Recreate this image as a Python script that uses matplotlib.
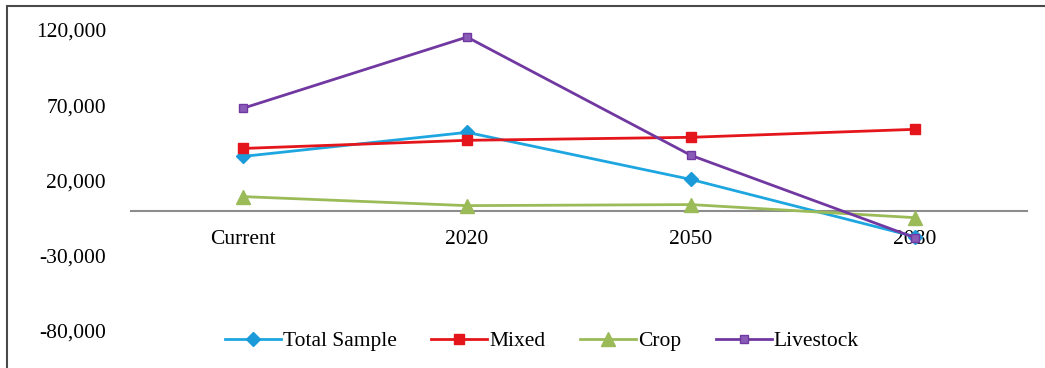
import matplotlib.pyplot as plt
from matplotlib.patches import Rectangle
from matplotlib.ticker import FuncFormatter

plt.rcParams['font.family'] = ['Liberation Serif', 'DejaVu Serif']

periods = ["Current", "2020", "2050", "2080"]
total_sample = [36000, 52000, 20700, -17300]
mixed = [41300, 46700, 48700, 54000]
crop = [9300, 3300, 4000, -4700]
livestock = [68000, 115300, 36700, -18000]
y_ticks = [-80000, -30000, 20000, 70000, 120000]

fig = plt.figure(figsize=(10.45, 3.68), dpi=100)
ax = fig.add_axes([131 / 1045, 1 - 331 / 368, 896 / 1045, 301 / 368])

x = range(len(periods))
ax.plot(x, total_sample, color="#1ea6e0", lw=2, marker="D", ms=7,
        mfc="#1a9ad8", mec="#1a9ad8", label="Total Sample")
ax.plot(x, mixed, color="#e4161b", lw=2, marker="s", ms=7,
        mfc="#e4161b", mec="#e4161b", label="Mixed")
ax.plot(x, crop, color="#9bbb59", lw=2, marker="^", ms=10,
        mfc="#9bbb59", mec="#9bbb59", label="Crop")
ax.plot(x, livestock, color="#7038a0", lw=2, marker="s", ms=5.5,
        mfc="#8a5cb8", mec="#7038a0", label="Livestock")

ax.set_xlim(-0.5, 3.5)
ax.set_ylim(-80000, 120000)
ax.set_xticks(list(x))
ax.set_xticklabels(periods)
ax.set_yticks(y_ticks)
ax.yaxis.set_major_formatter(FuncFormatter(lambda v, p: "{:,}".format(int(v))))

for side in ["top", "right", "left"]:
    ax.spines[side].set_visible(False)
ax.spines["bottom"].set_position(("data", 0))
ax.spines["bottom"].set_color("#8c8c8c")
ax.spines["bottom"].set_linewidth(1.5)
ax.spines["bottom"].set_zorder(0)
ax.tick_params(axis="x", length=0, pad=14, labelsize=15.5)
ax.tick_params(axis="y", length=0, pad=18, labelsize=15.5)

fig.legend(loc="center", bbox_to_anchor=(542 / 1045, 1 - 341 / 368),
           ncol=4, frameon=False, fontsize=15.5, handlelength=2.6,
           columnspacing=1.6, handletextpad=0.1)

# chart frame
fig.patches.append(Rectangle((7 / 1045, -0.1), 1.1, 0.1 + 1 - 6 / 368,
                             transform=fig.transFigure, fill=False,
                             edgecolor="#4a4a4a", lw=1.5))

fig.savefig("out.png", dpi=100)
